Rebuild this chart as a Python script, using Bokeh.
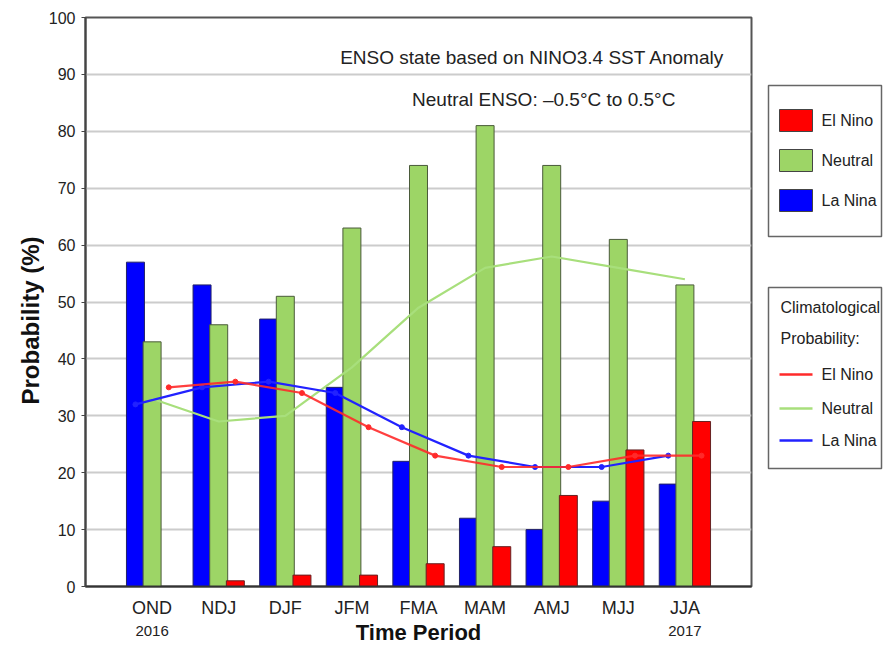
import numpy as np
from bokeh.plotting import figure
from bokeh.models import FixedTicker, Label, Range1d
from bokeh.layouts import row, column
from bokeh.core.properties import value
from bokeh.embed import file_html
from bokeh.resources import INLINE

# ---------------- data ----------------
periods = ["OND", "NDJ", "DJF", "JFM", "FMA", "MAM", "AMJ", "MJJ", "JJA"]
la_nina = [57, 53, 47, 35, 22, 12, 10, 15, 18]
neutral = [43, 46, 51, 63, 74, 81, 74, 61, 53]
el_nino = [0, 1, 2, 2, 4, 7, 16, 24, 29]
clim_el_nino = [35, 36, 34, 28, 23, 21, 21, 23, 23]
clim_neutral = [33, 29, 30, 38.5, 49, 56, 58, 56, 54]
clim_la_nina = [32, 35, 36, 34, 28, 23, 21, 21, 23]
y_ticks = list(range(0, 101, 10))
year_labels = {"OND": "2016", "JJA": "2017"}

FONT = "Liberation Sans"
TXT = "#222222"

RED, GREEN, BLUE = "#ff0000", "#9dd566", "#0000ff"
LRED, LGREEN, LBLUE = "#ff2a2a", "#a8df7c", "#2222ff"

xc = np.arange(1, len(periods) + 1)
off, bw = 0.25, 0.27

LEFT_STRIP = 44
MAIN_W = 753 - LEFT_STRIP
BORDER_L = 85 - LEFT_STRIP

# ---------------- main chart ----------------
p = figure(width=MAIN_W, height=620, x_range=Range1d(0, 10), y_range=Range1d(0, 100),
           output_backend="svg", toolbar_location=None,
           min_border_left=BORDER_L, min_border_right=2, min_border_top=17, min_border_bottom=34)
p.background_fill_color = "white"
p.border_fill_color = "white"
p.outline_line_color = "#555555"
p.outline_line_width = 2

p.xgrid.grid_line_color = None
p.ygrid.grid_line_color = "#cccccc"
p.ygrid.grid_line_width = 2
p.ygrid.ticker = FixedTicker(ticks=y_ticks)

p.yaxis.ticker = FixedTicker(ticks=y_ticks)
p.yaxis.major_tick_out = 4
p.yaxis.major_tick_in = 0
p.yaxis.minor_tick_line_color = None
p.yaxis.major_label_standoff = 6
p.yaxis.major_label_text_font = FONT
p.yaxis.major_label_text_font_size = "16px"
p.yaxis.major_label_text_color = TXT
p.yaxis.axis_line_color = "#444444"
p.yaxis.axis_line_width = 2
p.yaxis.major_tick_line_color = "#444444"

p.xaxis.ticker = FixedTicker(ticks=list(xc))
p.xaxis.major_label_overrides = {int(i): s for i, s in zip(xc, periods)}
p.xaxis.major_tick_out = 0
p.xaxis.major_tick_in = 0
p.xaxis.minor_tick_line_color = None
p.xaxis.major_label_standoff = 11
p.xaxis.major_label_text_font = FONT
p.xaxis.major_label_text_font_size = "18px"
p.xaxis.major_label_text_color = TXT
p.xaxis.axis_line_color = "#333333"
p.xaxis.axis_line_width = 2

# bars
p.vbar(x=xc - off, top=la_nina, width=bw, bottom=0, fill_color=BLUE, line_color="#222266", line_width=1)
p.vbar(x=xc, top=neutral, width=bw, bottom=0, fill_color=GREEN, line_color="#4a5a3a", line_width=1)
p.vbar(x=xc + off, top=el_nino, width=bw, bottom=0, fill_color=RED, line_color="#662222", line_width=1)

# climatological lines
p.line(xc, clim_neutral, line_color=LGREEN, line_width=2.2)
p.line(xc - off, clim_la_nina, line_color=LBLUE, line_width=2.2)
p.scatter(xc - off, clim_la_nina, size=5, fill_color=LBLUE, line_color=LBLUE)
p.line(xc + off, clim_el_nino, line_color=LRED, line_width=2.2, line_alpha=0.9)
p.scatter(xc + off, clim_el_nino, size=5, fill_color=LRED, line_color=LRED)

# in-plot texts
p.add_layout(Label(x=6.71, y=93.0, text="ENSO state based on NINO3.4 SST Anomaly",
                   text_align="center", text_baseline="middle", text_font=FONT,
                   text_font_size="19px", text_color=TXT))
p.add_layout(Label(x=6.88, y=85.6, text="Neutral ENSO: \u20130.5\u00b0C to 0.5\u00b0C",
                   text_align="center", text_baseline="middle", text_font=FONT,
                   text_font_size="19px", text_color=TXT))

# ---------------- strip under the chart (years + axis title) ----------------
b = figure(width=MAIN_W, height=24, x_range=p.x_range, y_range=Range1d(24, 0),
           output_backend="svg", toolbar_location=None,
           min_border_left=BORDER_L, min_border_right=2, min_border_top=0, min_border_bottom=0)
b.axis.visible = False
b.grid.visible = False
b.outline_line_color = None
yr_x = [float(i) for i, s in zip(xc, periods) if s in year_labels]
yr_t = [year_labels[s] for s in periods if s in year_labels]
b.text(x=yr_x, y=[10] * len(yr_x), text=yr_t, text_align="center", text_baseline="middle",
       text_font=value(FONT), text_font_size="15px", text_color=TXT)
b.text(x=[float(xc.mean())], y=[12], text=["Time Period"], text_align="center",
       text_baseline="middle", text_font=value(FONT), text_font_style="bold",
       text_font_size="22px", text_color="#111111")

# ---------------- strip left of the chart (y-axis title) ----------------
l = figure(width=LEFT_STRIP, height=644, x_range=Range1d(0, LEFT_STRIP), y_range=Range1d(644, 0),
           output_backend="svg", toolbar_location=None, min_border=0)
l.axis.visible = False
l.grid.visible = False
l.outline_line_color = None
l.text(x=[30], y=[320], text=["Probability (%)"], angle=np.pi / 2, text_align="center",
       text_baseline="middle", text_font=value(FONT), text_font_style="bold",
       text_font_size="24px", text_color="#111111")

# ---------------- legend panel ----------------
q = figure(width=132, height=644, x_range=Range1d(0, 132), y_range=Range1d(644, 0),
           output_backend="svg", toolbar_location=None, min_border=0)
q.axis.visible = False
q.grid.visible = False
q.outline_line_color = None

q.quad(left=[15, 15], right=[128, 128], top=[85, 287], bottom=[236, 468],
       fill_color="white", line_color="#666666", line_width=1.5)

bar_names = ["El Nino", "Neutral", "La Nina"]
bar_cols = [RED, GREEN, BLUE]
bar_y = [120, 160, 200]
q.quad(left=[26] * 3, right=[59] * 3, top=[y - 11 for y in bar_y], bottom=[y + 11 for y in bar_y],
       fill_color=bar_cols, line_color="#444444", line_width=1)
q.text(x=[68] * 3, y=bar_y, text=bar_names, text_font=value(FONT), text_font_size="16px",
       text_baseline="middle", text_color=TXT)

q.text(x=[27, 27], y=[307, 338], text=["Climatological", "Probability:"], text_font=value(FONT),
       text_font_size="16px", text_baseline="middle", text_color=TXT)
line_y = [374, 408, 440]
line_cols = [LRED, LGREEN, LBLUE]
for yy, c in zip(line_y, line_cols):
    q.line([26, 59], [yy, yy], line_color=c, line_width=2.5)
q.text(x=[68] * 3, y=line_y, text=bar_names, text_font=value(FONT), text_font_size="16px",
       text_baseline="middle", text_color=TXT)

layout = row(l, column(p, b), q)
open("out.html", "w").write(file_html(layout, INLINE))
